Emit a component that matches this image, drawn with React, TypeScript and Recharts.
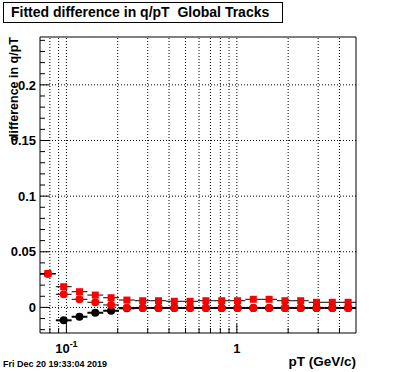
import React from 'react';
import {
  ScatterChart,
  Scatter,
  XAxis,
  YAxis,
  ErrorBar,
  ReferenceLine,
  ReferenceArea,
  Label,
} from 'recharts';

// 20 log-spaced pT bins between 0.07 and 5 GeV/c
const binEdges = [
  0.07, 0.0867, 0.1073, 0.1328, 0.1644, 0.2035, 0.252, 0.3119, 0.3861, 0.4779, 0.5917,
  0.7325, 0.9069, 1.1226, 1.3898, 1.7205, 2.1299, 2.6363, 3.2637, 4.0402, 5.0,
];
const binCenters = [
  0.0779, 0.0964, 0.1193, 0.1477, 0.1829, 0.2264, 0.2803, 0.347, 0.4295, 0.5317,
  0.6583, 0.815, 1.0088, 1.249, 1.546, 1.914, 2.369, 2.933, 3.631, 4.495,
];

const redSquares = [
  0.0305, 0.0186, 0.0141, 0.0111, 0.0087, 0.0066, 0.006, 0.006, 0.0055, 0.0055,
  0.006, 0.006, 0.006, 0.0073, 0.0073, 0.006, 0.006, 0.0046, 0.0046, 0.0046,
];
const redCircles = [
  0.03, 0.0118, 0.0073, 0.0046, 0.0022, -0.0003, -0.0005, -0.0005, -0.0005, -0.0005,
  -0.0005, -0.0005, -0.0005, -0.0005, -0.0005, -0.0005, -0.0005, -0.0005, -0.0005, -0.0005,
];
const blackCircles = [
  null, -0.0116, -0.0084, -0.0048, -0.003, -0.0008, -0.0005, -0.0005, -0.0005, -0.0005,
  -0.0005, -0.0005, -0.0005, -0.0005, -0.0005, -0.0005, -0.0005, -0.0005, -0.0005, -0.0005,
];

const xTicks = [0.08, 0.09, 0.1, 0.2, 0.3, 0.4, 0.5, 0.6, 0.7, 0.8, 0.9, 1, 2, 3, 4];
const yTicks = [
  -0.02, -0.01, 0, 0.01, 0.02, 0.03, 0.04, 0.05, 0.06, 0.07, 0.08, 0.09, 0.1, 0.11, 0.12,
  0.13, 0.14, 0.15, 0.16, 0.17, 0.18, 0.19, 0.2, 0.21, 0.22, 0.23, 0.24,
];
const yGrid = [0, 0.05, 0.1, 0.15, 0.2];

const FONT = '"Liberation Sans", Arial, Helvetica, sans-serif';

const toPoints = (vals: (number | null)[]) =>
  vals
    .map((y, i) =>
      y === null
        ? null
        : {
            x: binCenters[i],
            y,
            xErr: [binCenters[i] - binEdges[i], binEdges[i + 1] - binCenters[i]],
          }
    )
    .filter(Boolean);

const XTick = (props: any) => {
  const { x, y, payload } = props;
  const v = payload.value;
  const major = v === 0.1 || v === 1;
  return (
    <g>
      <line x1={x} y1={y} x2={x} y2={y - (major ? 9 : 5)} stroke="#000" />
      {v === 0.1 && (
        <text x={x} y={y + 20} textAnchor="middle" fontFamily={FONT} fontWeight="bold" fontSize={13} fill="#000">
          <tspan>10</tspan>
          <tspan dy={-6} fontSize={9}>-1</tspan>
        </text>
      )}
      {v === 1 && (
        <text x={x} y={y + 20} textAnchor="middle" fontFamily={FONT} fontWeight="bold" fontSize={13} fill="#000">
          1
        </text>
      )}
    </g>
  );
};

const YTick = (props: any) => {
  const { x, y, payload } = props;
  const v = payload.value;
  const major = Math.round(v * 100) % 5 === 0;
  return (
    <g>
      <line x1={x} y1={y} x2={x + (major ? 9 : 5)} y2={y} stroke="#000" />
      {major && v >= 0 && (
        <text x={x - 4} y={y} dy="0.36em" textAnchor="end" fontFamily={FONT} fontWeight="bold" fontSize={13} fill="#000">
          {String(Math.round(v * 100) / 100)}
        </text>
      )}
    </g>
  );
};

const Square = (props: any) => {
  const { cx, cy } = props;
  return <rect x={cx - 3.5} y={cy - 3.5} width={7} height={7} fill="#ff0000" />;
};
const RedDot = (props: any) => <circle cx={props.cx} cy={props.cy} r={4} fill="#ff0000" />;
const BlackDot = (props: any) => <circle cx={props.cx} cy={props.cy} r={4} fill="#000" />;

export default function App() {
  return (
    <div style={{ position: 'absolute', left: 0, top: 0, width: 396, height: 372, background: '#fff' }}>
      <div
        style={{
          position: 'absolute',
          left: 3,
          top: 2,
          width: 271,
          height: 19,
          border: '1px solid #000',
          fontFamily: FONT,
          fontWeight: 'bold',
          fontSize: 14,
          lineHeight: '19px',
          paddingLeft: 7,
          boxSizing: 'content-box',
          whiteSpace: 'pre',
        }}
      >
        {'Fitted difference in q/pT  Global Tracks'}
      </div>
      <ScatterChart width={396} height={372} margin={{ top: 37, right: 40, bottom: 0, left: 0 }}>
        <XAxis
          dataKey="x"
          type="number"
          scale="log"
          domain={[0.07, 5]}
          allowDataOverflow
          ticks={xTicks}
          height={39}
          tickSize={0}
          tickMargin={0}
          tickLine={false}
          axisLine={false}
          tick={<XTick />}
          interval={0}
        >
          <Label
            content={({ viewBox }: any) => (
              <text
                x={viewBox.x + viewBox.width}
                y={viewBox.y + 33}
                textAnchor="end"
                fontFamily={FONT}
                fontWeight="bold"
                fontSize={13.5}
                fill="#000"
              >
                pT (GeV/c)
              </text>
            )}
          />
        </XAxis>
        <YAxis
          dataKey="y"
          type="number"
          domain={[-0.023, 0.243]}
          allowDataOverflow
          ticks={yTicks}
          width={40}
          tickSize={0}
          tickMargin={0}
          tickLine={false}
          axisLine={false}
          tick={<YTick />}
          interval={0}
        >
          <Label
            content={({ viewBox }: any) => (
              <text
                x={18}
                y={viewBox.y}
                transform={`rotate(-90 18 ${viewBox.y})`}
                textAnchor="end"
                fontFamily={FONT}
                fontWeight="bold"
                fontSize={12.5}
                fill="#000"
              >
                difference in q/pT
              </text>
            )}
          />
        </YAxis>
        {xTicks.map((v) => (
          <ReferenceLine key={'gx' + v} x={v} stroke="#000" strokeDasharray="1 2" />
        ))}
        {yGrid.map((v) => (
          <ReferenceLine key={'gy' + v} y={v} stroke="#000" strokeDasharray="1 2" />
        ))}
        <ReferenceArea x1={0.07} x2={5} y1={-0.023} y2={0.243} fill="none" stroke="#000" strokeWidth={1} />
        <Scatter data={toPoints(redSquares)} shape={<Square />} isAnimationActive={false}>
          <ErrorBar dataKey="xErr" direction="x" width={0} stroke="#000" strokeWidth={1} />
        </Scatter>
        <Scatter data={toPoints(blackCircles)} shape={<BlackDot />} isAnimationActive={false}>
          <ErrorBar dataKey="xErr" direction="x" width={0} stroke="#000" strokeWidth={2} />
        </Scatter>
        <Scatter data={toPoints(redCircles)} shape={<RedDot />} isAnimationActive={false}>
          <ErrorBar dataKey="xErr" direction="x" width={0} stroke="#000" strokeWidth={1} />
        </Scatter>
      </ScatterChart>
      <div
        style={{
          position: 'absolute',
          left: 3,
          top: 359,
          fontFamily: FONT,
          fontWeight: 'bold',
          fontSize: 9,
          lineHeight: '11px',
          whiteSpace: 'pre',
        }}
      >
        Fri Dec 20 19:33:04 2019
      </div>
    </div>
  );
}
